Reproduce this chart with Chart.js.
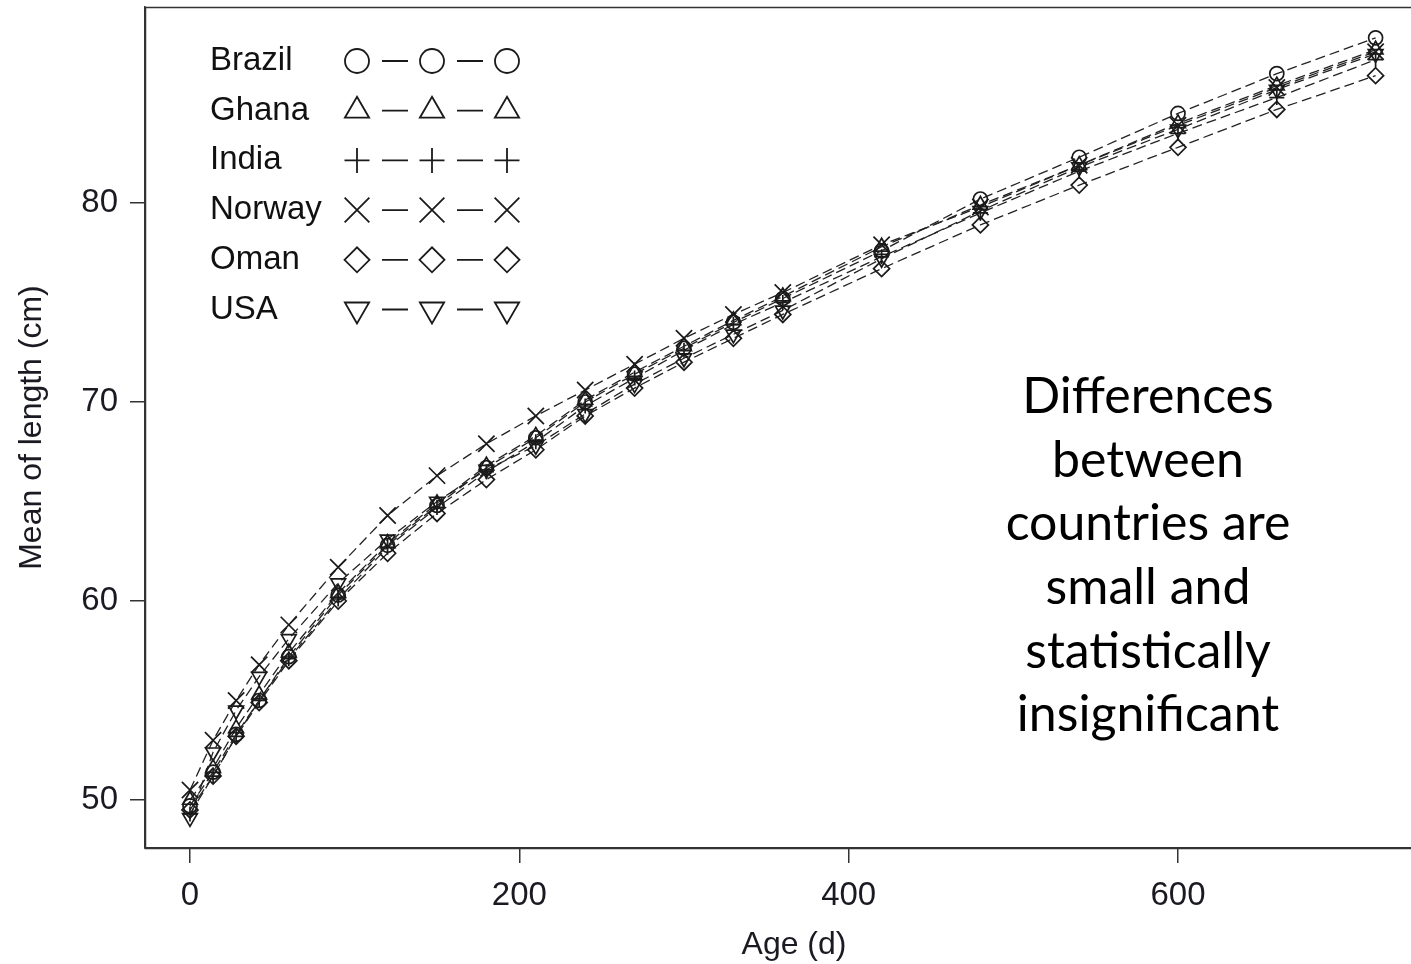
<!DOCTYPE html>
<html>
<head>
<meta charset="utf-8">
<script src="https://cdn.jsdelivr.net/npm/chart.js@4.4.1/dist/chart.umd.min.js"></script>
<style>
html,body{margin:0;padding:0;overflow:hidden;background:#fff;width:1411px;height:964px;}
canvas{display:block;}
</style>
</head>
<body>
<canvas id="c" width="1460" height="964" style="width:1460px;height:964px"></canvas>
<script>
// ---- data ----
const ages = [0,14,28,42,60,90,120,150,180,210,240,270,300,330,360,420,480,540,600,660,720];
const brazil = [49.7,51.4,53.3,55.0,57.2,60.3,62.8,64.8,66.7,68.2,70.0,71.4,72.7,74.0,75.2,77.6,80.2,82.3,84.5,86.5,88.3];
const ghana  = [50.0,51.6,53.6,55.3,57.4,60.4,62.9,64.9,66.8,68.3,70.1,71.5,72.8,74.1,75.3,77.8,79.9,81.9,84.0,85.9,87.7];
const india  = [49.3,51.2,53.2,55.0,57.1,60.1,62.7,64.7,66.5,68.0,69.8,71.2,72.6,73.9,75.0,77.3,79.5,81.6,83.5,85.3,87.2];
const norway = [50.5,53.0,55.0,56.8,58.8,61.7,64.3,66.3,67.9,69.3,70.6,71.9,73.2,74.4,75.5,77.9,79.8,81.9,83.9,85.8,87.6];
const oman   = [49.5,51.2,53.2,54.9,57.0,60.0,62.4,64.4,66.1,67.6,69.3,70.7,72.0,73.2,74.4,76.7,78.9,80.9,82.8,84.7,86.4];
const usa    = [49.1,52.4,54.5,56.2,58.1,60.9,63.1,65.0,66.6,67.8,69.4,70.9,72.2,73.4,74.6,77.2,79.6,81.8,83.7,85.7,87.5];
const countries = ["Brazil","Ghana","India","Norway","Oman","USA"];
const xTicks = [0,200,400,600];
const yTicks = [50,60,70,80];
const noteLines = ["Differences","between","countries are","small and","statistically","insignificant"];

const seriesValues = [brazil, ghana, india, norway, oman, usa];
const styles = [
  {pointStyle:'circle', rotation:0, r:7, lr:12},
  {pointStyle:'triangle', rotation:0, r:8.5, lr:14},
  {pointStyle:'cross', rotation:0, r:7.5, lr:12.5},
  {pointStyle:'crossRot', rotation:0, r:11.5, lr:17.5},
  {pointStyle:'rectRot', rotation:0, r:8, lr:12.5},
  {pointStyle:'triangle', rotation:180, r:8.5, lr:14}
];
const ink = '#1a1a1a';

const datasets = countries.map((name,i)=>({
  label: name,
  data: ages.map((a,j)=>({x:a, y:seriesValues[i][j]})),
  borderColor: '#222',
  borderWidth: 1.3,
  borderDash: [10,5],
  fill: false,
  tension: 0,
  pointStyle: styles[i].pointStyle,
  rotation: styles[i].rotation,
  pointRadius: styles[i].r,
  pointHoverRadius: styles[i].r,
  pointBorderColor: ink,
  pointBackgroundColor: 'rgba(0,0,0,0)',
  pointBorderWidth: 1.7
}));

const framePlugin = {
  id:'frame',
  afterDraw(chart){
    const {ctx, chartArea:a} = chart;
    ctx.save();
    ctx.strokeStyle = '#333';
    ctx.lineWidth = 1.5;
    ctx.strokeRect(a.left+0.5, a.top+0.5, a.right-a.left, a.bottom-a.top);
    ctx.restore();
  }
};

const legendPlugin = {
  id:'customLegend',
  afterDraw(chart){
    const ctx = chart.ctx;
    ctx.save();
    const rowY0 = 61, rowGap = 49.7;
    const symX = [357,432,507];
    countries.forEach((name,i)=>{
      const y = rowY0 + i*rowGap;
      ctx.fillStyle = '#111';
      ctx.font = '33px "Liberation Sans", Arial, sans-serif';
      ctx.textAlign = 'left';
      ctx.textBaseline = 'middle';
      ctx.fillText(name, 210, y);
      ctx.strokeStyle = ink;
      ctx.fillStyle = 'rgba(0,0,0,0)';
      ctx.lineWidth = 1.8;
      symX.forEach(x=>{
        Chart.helpers.drawPoint(ctx, {pointStyle:styles[i].pointStyle, rotation:styles[i].rotation, radius:styles[i].lr, borderWidth:1.8}, x, y);
      });
      ctx.beginPath();
      ctx.moveTo(382,y); ctx.lineTo(408,y);
      ctx.moveTo(457,y); ctx.lineTo(483,y);
      ctx.lineWidth = 1.8;
      ctx.stroke();
    });
    ctx.restore();
  }
};

const notePlugin = {
  id:'note',
  afterDraw(chart){
    const ctx = chart.ctx;
    ctx.save();
    ctx.fillStyle = '#000';
    ctx.font = '50px Lato, "Open Sans", sans-serif';
    ctx.textAlign = 'center';
    ctx.textBaseline = 'middle';
    noteLines.forEach((t,i)=>ctx.fillText(t, 1148, 397 + i*63.6));
    ctx.restore();
  }
};

const chart = new Chart(document.getElementById('c'), {
  type:'line',
  data:{datasets},
  options:{
    responsive:false,
    animation:false,
    events:[],
    layout:{autoPadding:false, padding:{top:7,right:17,left:0,bottom:0}},
    plugins:{legend:{display:false}, tooltip:{enabled:false}},
    scales:{
      x:{
        type:'linear',
        min:-27.33, max:760.9,
        afterBuildTicks(s){ s.ticks = xTicks.map(v=>({value:v})); },
        afterFit(s){ s.height = 116; s.paddingLeft = 0; s.paddingRight = 0; },
        grid:{display:true, drawOnChartArea:false, drawTicks:true, tickLength:15, color:'#333', lineWidth:1.5},
        border:{display:true, color:'#333', width:1.5},
        ticks:{color:'#1a1a22', font:{family:'"Liberation Sans", Arial, sans-serif', size:33}, padding:13, maxRotation:0, autoSkip:false},
        title:{display:true, text:'Age (d)', color:'#1a1a22', font:{family:'"Liberation Sans", Arial, sans-serif', size:32}, padding:{top:0,bottom:0}}
      },
      y:{
        type:'linear',
        min:47.59, max:89.85,
        afterBuildTicks(s){ s.ticks = yTicks.map(v=>({value:v})); },
        afterFit(s){ s.width = 145; s.paddingTop = 0; s.paddingBottom = 0; },
        grid:{display:true, drawOnChartArea:false, drawTicks:true, tickLength:15, color:'#333', lineWidth:1.5},
        border:{display:true, color:'#333', width:1.5},
        ticks:{color:'#1a1a22', font:{family:'"Liberation Sans", Arial, sans-serif', size:33}, padding:12, autoSkip:false},
        title:{display:true, text:'Mean of length (cm)', color:'#1a1a22', font:{family:'"Liberation Sans", Arial, sans-serif', size:32}, padding:{top:13,bottom:0}}
      }
    }
  },
  plugins:[framePlugin, legendPlugin, notePlugin]
});

// Calibrate axis ranges so that 0 d / 600 d and 50 / 80 cm land where the reference shows them
(function calibrate(){
  const a = chart.chartArea;
  const pxPerDay = (1178 - 190) / 600;
  const pxPerCm = (800 - 203) / 30;
  chart.options.scales.x.min = 0 - (190 - a.left) / pxPerDay;
  chart.options.scales.x.max = 0 + (a.right - 190) / pxPerDay;
  chart.options.scales.y.max = 80 + (203 - a.top) / pxPerCm;
  chart.options.scales.y.min = 50 - (a.bottom - 800) / pxPerCm;
  chart.update();
})();
</script>
</body>
</html>
